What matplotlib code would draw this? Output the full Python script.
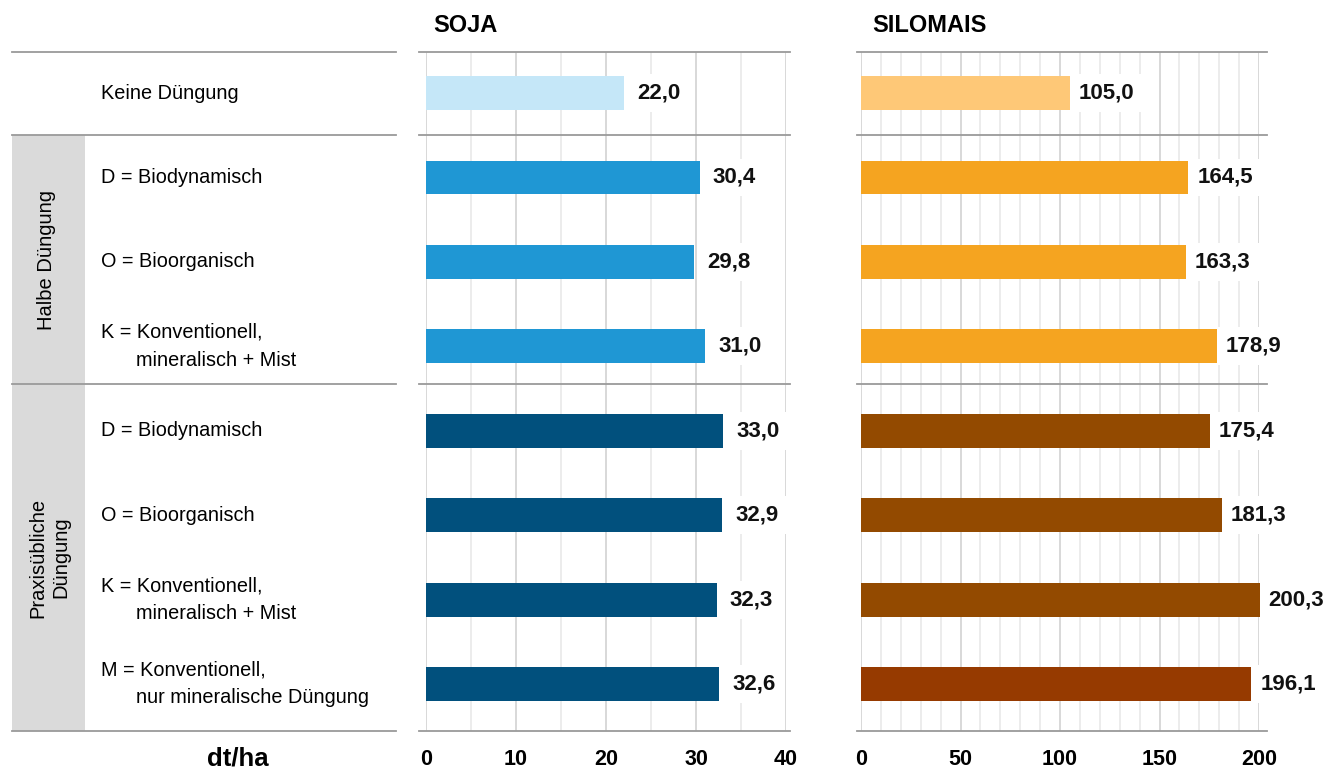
import matplotlib.pyplot as plt
import matplotlib.transforms as mtransforms
from matplotlib.patches import Rectangle
from matplotlib.lines import Line2D

plt.rcParams['font.family'] = ['Liberation Sans', 'DejaVu Sans']

# data
rows = ['Keine Düngung',
        'D = Biodynamisch', 'O = Bioorganisch', 'K = Konventionell,\nmineralisch + Mist',
        'D = Biodynamisch', 'O = Bioorganisch', 'K = Konventionell,\nmineralisch + Mist',
        'M = Konventionell,\nnur mineralische Düngung']
groups = ['Halbe Düngung', 'Praxisübliche\nDüngung']
soja = [22.0, 30.4, 29.8, 31.0, 33.0, 32.9, 32.3, 32.6]
silomais = [105.0, 164.5, 163.3, 178.9, 175.4, 181.3, 200.3, 196.1]
soja_colors = ['#C5E7F8', '#1F97D4', '#1F97D4', '#1F97D4',
               '#01507D', '#01507D', '#01507D', '#01507D']
mais_colors = ['#FEC877', '#F5A420', '#F5A420', '#F5A420',
               '#934A00', '#934A00', '#934A00', '#963A00']
soja_ticks = [0, 10, 20, 30, 40]
mais_ticks = [0, 50, 100, 150, 200]

W, H = 1340, 771
fig = plt.figure(figsize=(W / 100, H / 100), dpi=100)


def fx(px):
    return px / W


def fy(py):
    return 1 - py / H


ax1 = fig.add_axes([fx(426), 40 / H, 360 / W, 679 / H])
ax2 = fig.add_axes([fx(861), 40 / H, 398 / W, 679 / H])

ylo, yhi = 7.556, -0.486
ypos = list(range(len(rows)))


def panel(ax, vals, colors, ticks, xmax, minor_step, gap):
    ax.set_xlim(0, xmax)
    ax.set_ylim(ylo, yhi)
    for x in range(0, xmax + 1, minor_step):
        major = x in ticks
        ax.axvline(x, color='#D6D6D6' if major else '#EBEBEB', lw=1.3, zorder=0)
    ax.barh(ypos, vals, height=0.4, color=colors, zorder=2, clip_on=False)
    for i, v in zip(ypos, vals):
        ax.annotate(f'{v:.1f}'.replace('.', ','), xy=(v, i), xytext=(gap, 0),
                    textcoords='offset pixels', ha='left', va='center',
                    fontsize=16, fontweight='bold', color='#111111', zorder=3,
                    annotation_clip=False,
                    bbox=dict(fc='white', ec='none', pad=6))
    ax.set_xticks(ticks)
    ax.set_xticklabels([str(t) for t in ticks], fontsize=15.5, fontweight='bold')
    ax.tick_params(axis='x', length=0, pad=13)
    ax.set_yticks([])
    for s in ax.spines.values():
        s.set_visible(False)


panel(ax1, soja, soja_colors, soja_ticks, 40, 5, 13)
panel(ax2, silomais, mais_colors, mais_ticks, 200, 10, 9)

fig.text(fx(433), fy(26), 'SOJA', fontsize=17, fontweight='bold', va='center')
fig.text(fx(872), fy(26), 'SILOMAIS', fontsize=17, fontweight='bold', va='center')
fig.text(fx(238), fy(759), 'dt/ha', fontsize=18.5, fontweight='bold', ha='center', va='center')

trans = mtransforms.blended_transform_factory(fig.transFigure, ax1.transData)

# grey group boxes
fig.patches.append(Rectangle((fx(12), 0.5), fx(85) - fx(12), 3.45 - 0.5,
                             transform=trans, fc='#DADADA', ec='none', zorder=0))
fig.patches.append(Rectangle((fx(12), 3.45), fx(85) - fx(12), ylo - 3.45,
                             transform=trans, fc='#DADADA', ec='none', zorder=0))
fig.text(fx(47), (0.5 + 3.45) / 2, groups[0], transform=trans, rotation=90,
         ha='center', va='center', fontsize=14.5)
fig.text(fx(49), (3.45 + ylo) / 2, groups[1], transform=trans, rotation=90,
         ha='center', va='center', fontsize=14.5, linespacing=1.25)

# separator lines
for yv in [yhi, 0.5, 3.45, ylo]:
    for x0, x1 in [(12, 396), (419, 790), (857, 1267)]:
        fig.lines.append(Line2D([fx(x0), fx(x1)], [yv, yv], transform=trans,
                                color='#9A9A9A', lw=1.3))

# row labels
for i, lab in enumerate(rows):
    parts = lab.split('\n')
    if len(parts) == 1:
        fig.text(fx(101), i, parts[0], transform=trans, va='center', fontsize=14.3)
    else:
        fig.text(fx(101), i - 0.165, parts[0], transform=trans, va='center', fontsize=14.3)
        fig.text(fx(136), i + 0.165, parts[1], transform=trans, va='center', fontsize=14.3)

fig.savefig('out.png', dpi=100)
